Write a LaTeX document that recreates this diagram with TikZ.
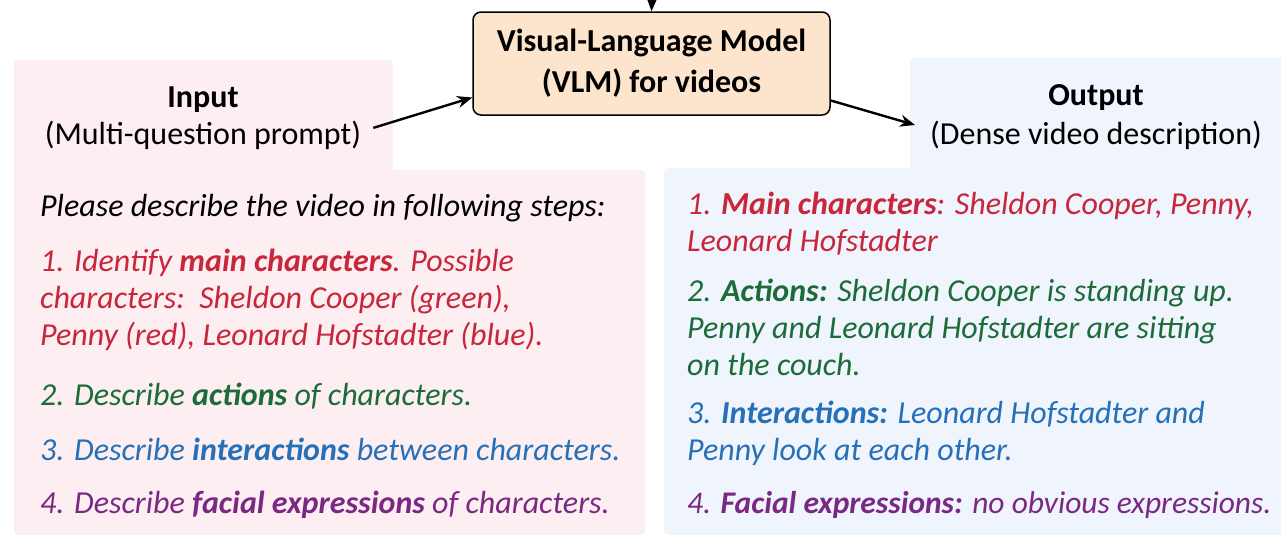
\documentclass[tikz,border=0pt]{standalone}
\usepackage{fontspec}
\setmainfont{Carlito}
\usetikzlibrary{arrows.meta}
\definecolor{cred}{RGB}{200,38,58}
\definecolor{cgreen}{RGB}{28,108,58}
\definecolor{cblue}{RGB}{38,112,184}
\definecolor{cpurple}{RGB}{122,40,132}
\definecolor{pinkbg}{RGB}{253,239,241}
\definecolor{bluebg}{RGB}{240,244,252}
\definecolor{vlmfill}{RGB}{252,229,204}
\begin{document}
\begin{tikzpicture}[x=1pt,y=-1pt,
  txt/.style={anchor=base west, inner sep=0pt, font=\fontsize{32}{37}\selectfont\itshape},
  hd/.style={anchor=base, inner sep=0pt, font=\fontsize{32}{37}\selectfont},
  arr/.style={-{Stealth[length=15pt,width=12pt]}, line width=2.4pt},
]
\useasboundingbox (0,0) rectangle (1281,538);
% panels
\fill[pinkbg, rounded corners=4pt] (14,60) rectangle (393,180);
\fill[pinkbg, rounded corners=4pt] (14,170) rectangle (645,535);
\fill[bluebg, rounded corners=4pt] (910,58) rectangle (1290,180);
\fill[bluebg, rounded corners=4pt] (664,168) rectangle (1290,535);
% VLM box
\node[draw, fill=vlmfill, rounded corners=8pt, line width=1.5pt,
      minimum width=357pt, minimum height=103pt, align=center,
      font=\fontsize{32}{41}\selectfont\bfseries] (vlm) at (651.5,63.5)
      {Visual-Language Model\\(VLM) for videos};
% headers
\node[hd, font=\fontsize{32}{37}\selectfont\bfseries] (inhead) at (203,107) {Input};
\node[hd] (insub) at (203,144) {(Multi-question prompt)};
\node[hd, font=\fontsize{32}{37}\selectfont\bfseries] (outhead) at (1096,105) {Output};
\node[hd] (outsub) at (1096,144) {(Dense video description)};
% arrows
\coordinate (topin) at (652,-2);
\coordinate (outend) at (915,125);
\draw[arr] (topin) -- (vlm.north);
\draw[arr] ([xshift=12pt,yshift=7pt]insub.east) -- ([yshift=-34pt]vlm.west);
\draw[arr] ([yshift=-37pt]vlm.east) -- (outend);
% left text
\node[txt] (lp) at (40,216) {Please describe the video in following steps:};
\node[txt, text=cred] (l1a) at (40,271) {1. Identify \textbf{main characters}. Possible};
\node[txt, text=cred] (l1b) at (40,308) {characters:\ \ Sheldon Cooper (green),};
\node[txt, text=cred] (l1c) at (40,345) {Penny (red), Leonard Hofstadter (blue).};
\node[txt, text=cgreen] (l2) at (40,405) {2. Describe \textbf{actions} of characters.};
\node[txt, text=cblue] (l3) at (40,460) {3. Describe \textbf{interactions} between characters.};
\node[txt, text=cpurple] (l4) at (40,513) {4. Describe \textbf{facial expressions} of characters.};
% right text
\node[txt, text=cred] (r1a) at (687,214) {1. \textbf{Main characters}: Sheldon Cooper, Penny,};
\node[txt, text=cred] (r1b) at (687,251) {Leonard Hofstadter};
\node[txt, text=cgreen] (r2a) at (687,301) {2. \textbf{Actions:} Sheldon Cooper is standing up.};
\node[txt, text=cgreen] (r2b) at (687,338) {Penny and Leonard Hofstadter are sitting};
\node[txt, text=cgreen] (r2c) at (687,375) {on the couch.};
\node[txt, text=cblue] (r3a) at (687,423) {3. \textbf{Interactions:} Leonard Hofstadter and};
\node[txt, text=cblue] (r3b) at (687,460) {Penny look at each other.};
\node[txt, text=cpurple, font=\fontsize{31.5}{37}\selectfont\itshape] (r4) at (687,513) {4. \textbf{Facial expressions:} no obvious expressions.};
\end{tikzpicture}
\end{document}
